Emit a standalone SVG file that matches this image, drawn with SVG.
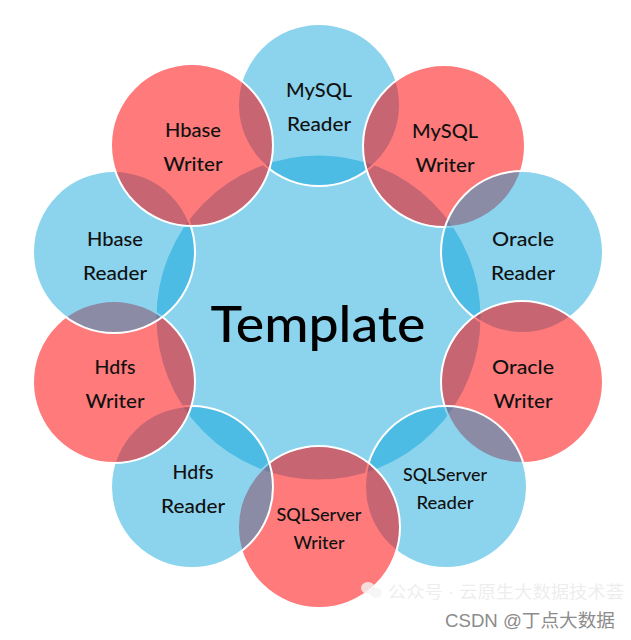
<svg xmlns="http://www.w3.org/2000/svg" width="631" height="640" viewBox="0 0 631 640">
  <style>
    .blue { fill: #00A0DA; fill-opacity: 0.45; stroke: #ffffff; stroke-width: 2; }
    .red { fill: #FF0000; fill-opacity: 0.52; stroke: #ffffff; stroke-width: 2; }
    .lbl { font-family: Lato, "Noto Sans", sans-serif; font-size: 19px; font-weight: 500; fill: #111111; text-anchor: middle; }
    .sm { font-size: 16.5px; }
    .title { font-family: Lato, "Noto Sans", sans-serif; font-size: 51px; font-weight: 500; fill: #000000; text-anchor: middle; }
    .wm { font-family: "Liberation Sans", "Noto Sans CJK SC", sans-serif; }
  </style>
  <rect width="631" height="640" fill="#ffffff"/>

  <g id="template">
    <circle class="blue" cx="318.5" cy="317.5" r="163"/>
    <text class="title" x="318" y="342" textLength="215" lengthAdjust="spacingAndGlyphs">Template</text>
  </g>

  <g id="mysql-reader">
    <circle class="blue" cx="319" cy="105" r="81"/>
    <text class="lbl" x="319" y="97" textLength="66" lengthAdjust="spacingAndGlyphs">MySQL</text>
    <text class="lbl" x="319" y="131" textLength="64" lengthAdjust="spacingAndGlyphs">Reader</text>
  </g>

  <g id="mysql-writer">
    <circle class="red" cx="444" cy="146" r="81"/>
    <text class="lbl" x="445" y="138" textLength="66" lengthAdjust="spacingAndGlyphs">MySQL</text>
    <text class="lbl" x="445" y="172" textLength="59" lengthAdjust="spacingAndGlyphs">Writer</text>
  </g>

  <g id="oracle-reader">
    <circle class="blue" cx="522" cy="252" r="81"/>
    <text class="lbl" x="523" y="246" textLength="62" lengthAdjust="spacingAndGlyphs">Oracle</text>
    <text class="lbl" x="523" y="280" textLength="64" lengthAdjust="spacingAndGlyphs">Reader</text>
  </g>

  <g id="oracle-writer">
    <circle class="red" cx="522" cy="382" r="81"/>
    <text class="lbl" x="523" y="374" textLength="62" lengthAdjust="spacingAndGlyphs">Oracle</text>
    <text class="lbl" x="523" y="408" textLength="59" lengthAdjust="spacingAndGlyphs">Writer</text>
  </g>

  <g id="sqlserver-reader">
    <circle class="blue" cx="446" cy="487" r="81"/>
    <text class="lbl sm" x="445" y="481" textLength="84" lengthAdjust="spacingAndGlyphs">SQLServer</text>
    <text class="lbl sm" x="445" y="509" textLength="57" lengthAdjust="spacingAndGlyphs">Reader</text>
  </g>

  <g id="sqlserver-writer">
    <circle class="red" cx="319" cy="527" r="81"/>
    <text class="lbl sm" x="319" y="521" textLength="85" lengthAdjust="spacingAndGlyphs">SQLServer</text>
    <text class="lbl sm" x="319" y="549" textLength="51" lengthAdjust="spacingAndGlyphs">Writer</text>
  </g>

  <g id="hdfs-reader">
    <circle class="blue" cx="192" cy="487" r="81"/>
    <text class="lbl" x="193" y="479" textLength="41" lengthAdjust="spacingAndGlyphs">Hdfs</text>
    <text class="lbl" x="193" y="513" textLength="64" lengthAdjust="spacingAndGlyphs">Reader</text>
  </g>

  <g id="hdfs-writer">
    <circle class="red" cx="114" cy="382" r="81"/>
    <text class="lbl" x="115" y="374" textLength="41" lengthAdjust="spacingAndGlyphs">Hdfs</text>
    <text class="lbl" x="115" y="408" textLength="59" lengthAdjust="spacingAndGlyphs">Writer</text>
  </g>

  <g id="hbase-reader">
    <circle class="blue" cx="114" cy="252" r="81"/>
    <text class="lbl" x="115" y="246" textLength="56" lengthAdjust="spacingAndGlyphs">Hbase</text>
    <text class="lbl" x="115" y="280" textLength="64" lengthAdjust="spacingAndGlyphs">Reader</text>
  </g>

  <g id="hbase-writer">
    <circle class="red" cx="192" cy="145" r="81"/>
    <text class="lbl" x="193" y="137" textLength="56" lengthAdjust="spacingAndGlyphs">Hbase</text>
    <text class="lbl" x="193" y="171" textLength="59" lengthAdjust="spacingAndGlyphs">Writer</text>
  </g>

  <g id="connectors"></g>

  <g id="watermark">
    <ellipse cx="368" cy="588" rx="7" ry="6" fill="#f4f4f4" fill-opacity="0.8"/>
    <ellipse cx="376" cy="593" rx="6" ry="5" fill="#f4f4f4" fill-opacity="0.8"/>
    <text class="wm" x="388" y="598" font-size="16.5" fill="#e6e6e6" fill-opacity="0.7" textLength="236" lengthAdjust="spacingAndGlyphs">公众号 · 云原生大数据技术荟</text>
    <text class="wm" x="445" y="627" font-size="18" fill="#8c8c8c" textLength="170" lengthAdjust="spacingAndGlyphs">CSDN @丁点大数据</text>
  </g>
</svg>
